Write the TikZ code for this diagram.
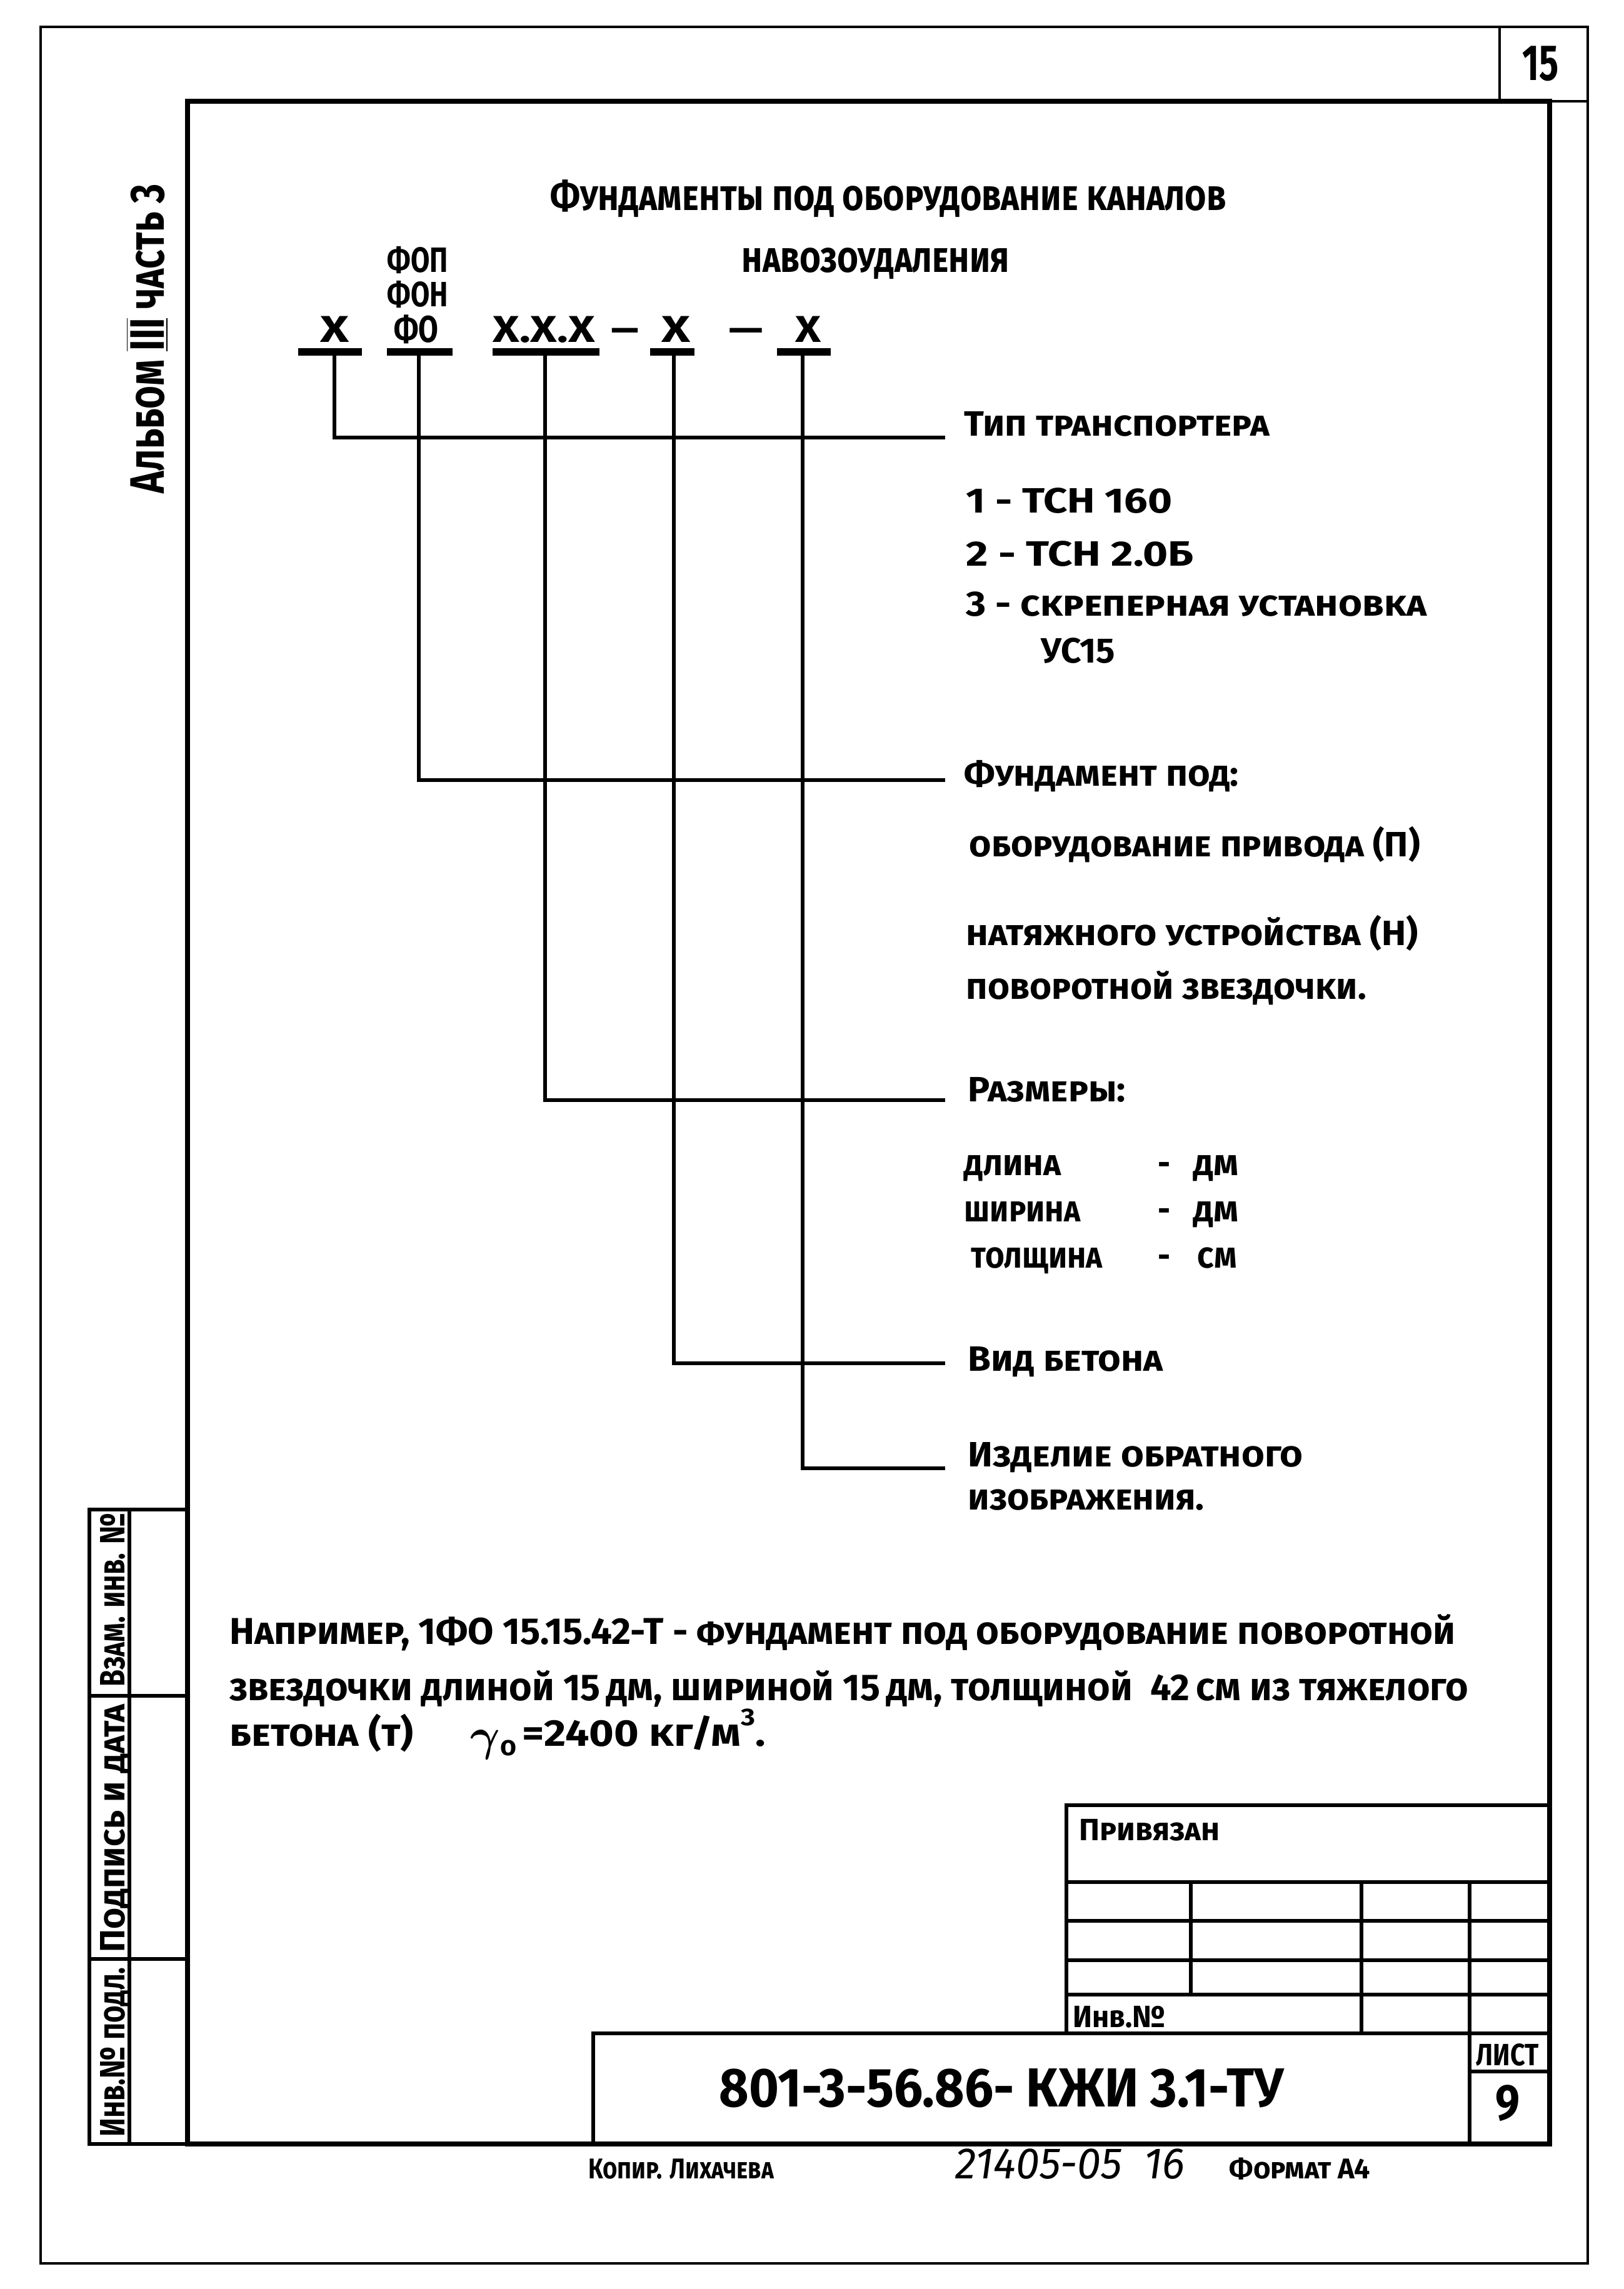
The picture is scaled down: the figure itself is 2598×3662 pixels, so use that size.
\documentclass[tikz,border=0pt]{standalone}
\usepackage{fontspec}
\usepackage{graphicx}
\newfontfamily\gost{Fira Sans}
\newdimen\pxu \pxu=0.01cm
\newcommand\fitw[2]{\resizebox{#1\pxu}{\height}{#2}}
\tikzset{
  outerline/.style={line width=1.2pt},
  innerline/.style={line width=2.1pt},
  stampline/.style={line width=1.5pt},
  tbline/.style={line width=1.6pt},
  lead/.style={line width=1.6pt},
  bar/.style={line width=3.4pt},
  lbl/.style={inner sep=0pt, anchor=base west, font=\gost\bfseries\scshape\fontsize{#1}{#1}\selectfont},
  lbl/.default=16,
  plain/.style={inner sep=0pt, anchor=base west, font=\gost\bfseries\fontsize{#1}{#1}\selectfont},
  plain/.default=16
}
\begin{document}
\begin{tikzpicture}[x=0.01cm,y=-0.01cm]
\useasboundingbox (0,0) rectangle (2598,3662);
\fill[white] (0,0) rectangle (2598,3662);

% frames
\draw[outerline] (65,43) rectangle (2540,3621);
\draw[innerline] (300,162) rectangle (2479,3430);
\draw[outerline] (2479,162) -- (2540,162);
\draw[outerline] (2399,43) -- (2399,162);
\node[plain=23] (pg) at (2435,128) {\fitw{58}{15}};

% side stamp
\draw[stampline] (300,2415) -- (143,2415) -- (143,3430) -- (300,3430);
\draw[stampline] (143,2713) -- (300,2713);
\draw[stampline] (143,3134) -- (300,3134);
\draw[stampline] (207,2415) -- (207,3430);
\node[lbl=16, rotate=90] (s1) at (199,2699) {\fitw{277}{Взам. инв. №}};
\node[lbl=16, rotate=90] (s2) at (199,3124) {\fitw{397}{Подпись и дата}};
\node[lbl=16, rotate=90] (s3) at (199,3419) {\fitw{271}{Инв.№ подл.}};

% album
\node[lbl=22, rotate=90] (alb) at (262,790) {\fitw{495}{Альбом $\overline{\underline{\hbox{III}}}$ часть 3}};

% title
\node[lbl=19] (t1) at (880,336) {\fitw{1081}{Фундаменты под оборудование каналов}};
\node[lbl=19] (t2) at (1186,435) {\fitw{428}{навозоудаления}};

% code scheme
\node[plain=16] (fop) at (619,435) {\fitw{97}{ФОП}};
\node[plain=16] (fon) at (619,490) {\fitw{97}{ФОН}};
\node[plain=17] (fo)  at (630,547) {\fitw{71}{ФО}};
\node[plain=17] (x1)  at (512,547) {\fitw{46}{Х}};
\node[plain=17] (x3)  at (788,547) {\fitw{163}{Х.Х.Х}};
\node[plain=17] (d1)  at (977,547) {\fitw{45}{–}};
\node[plain=17] (x4)  at (1058,547) {\fitw{46}{Х}};
\node[plain=17] (d2)  at (1165,547) {\fitw{56}{–}};
\node[plain=17] (x5)  at (1272,547) {\fitw{41}{Х}};

\coordinate (b1l) at (477,563); \coordinate (b1r) at (579,563);
\coordinate (b2l) at (619,563); \coordinate (b2r) at (724,563);
\coordinate (b3l) at (788,563); \coordinate (b3r) at (959,563);
\coordinate (b4l) at (1040,563); \coordinate (b4r) at (1111,563);
\coordinate (b5l) at (1243,563); \coordinate (b5r) at (1329,563);
\draw[bar] (b1l) -- (b1r);
\draw[bar] (b2l) -- (b2r);
\draw[bar] (b3l) -- (b3r);
\draw[bar] (b4l) -- (b4r);
\draw[bar] (b5l) -- (b5r);

\coordinate (k1) at (535,563);
\coordinate (k2) at (670,563);
\coordinate (k3) at (872,563);
\coordinate (k4) at (1078,563);
\coordinate (k5) at (1284,563);
\coordinate (e1) at (1512,700);
\coordinate (e2) at (1512,1248);
\coordinate (e3) at (1512,1760);
\coordinate (e4) at (1512,2181);
\coordinate (e5) at (1512,2349);
\draw[lead] (k1) |- (e1);
\draw[lead] (k2) |- (e2);
\draw[lead] (k3) |- (e3);
\draw[lead] (k4) |- (e4);
\draw[lead] (k5) |- (e5);

% labels
\node[lbl] (ty) at (1542,697) {\fitw{488}{Тип транспортера}};
\node[plain=16] (ty1) at (1545,820) {\fitw{330}{1 - ТСН 160}};
\node[plain=16] (ty2) at (1545,905) {\fitw{364}{2 - ТСН 2.0Б}};
\node[lbl] (ty3) at (1545,985) {\fitw{737}{3 - скреперная установка}};
\node[plain=16] (ty4) at (1665,1060) {\fitw{118}{УС15}};

\node[lbl] (fu) at (1542,1257) {\fitw{439}{Фундамент под:}};
\node[lbl] (fu1) at (1550,1370) {\fitw{721}{оборудование привода (П)}};
\node[lbl] (fu2) at (1545,1512) {\fitw{723}{натяжного устройства (Н)}};
\node[lbl] (fu3) at (1545,1598) {\fitw{640}{поворотной звездочки.}};

\node[lbl] (ra) at (1548,1762) {\fitw{252}{Размеры:}};
\node[lbl] (ra1) at (1542,1880) {\fitw{155}{длина}};
\node[lbl] (ra1d) at (1852,1880) {\fitw{20}{-}};
\node[lbl] (ra1u) at (1909,1880) {\fitw{72}{дм}};
\node[lbl] (ra2) at (1542,1954) {\fitw{186}{ширина}};
\node[lbl] (ra2d) at (1852,1954) {\fitw{20}{-}};
\node[lbl] (ra2u) at (1909,1954) {\fitw{72}{дм}};
\node[lbl] (ra3) at (1553,2028) {\fitw{210}{толщина}};
\node[lbl] (ra3d) at (1852,2028) {\fitw{20}{-}};
\node[lbl] (ra3u) at (1915,2028) {\fitw{63}{см}};

\node[lbl] (vb) at (1548,2193) {\fitw{312}{Вид бетона}};
\node[lbl] (iz1) at (1548,2346) {\fitw{536}{Изделие обратного}};
\node[lbl] (iz2) at (1548,2415) {\fitw{378}{изображения.}};

% paragraph
\node[lbl=17] (p1) at (367,2630) {\fitw{1961}{Например, 1ФО 15.15.42-Т - фундамент под оборудование поворотной}};
\node[lbl=17] (p2) at (367,2720) {\fitw{1981}{звездочки длиной 15\,дм, шириной 15\,дм, толщиной \ 42\,см из тяжелого}};
\node[lbl=17] (p3) at (367,2793) {\fitw{294}{бетона (т)}};
\node[lbl=12] (gam) at (752,2800) {{\fontsize{22}{22}\selectfont\boldmath$\gamma$}\raisebox{-0.08cm}{о}};
\node[lbl=17] (p4) at (835,2793) {\fitw{389}{=2400 кг/м\raisebox{0.55em}{\fontsize{11}{11}\selectfont 3}.}};

% title block
\draw[tbline] (1706,3253) -- (1706,2888) -- (2479,2888);
\draw[tbline] (1706,3011) -- (2479,3011);
\draw[tbline] (1706,3073) -- (2479,3073);
\draw[tbline] (1706,3136) -- (2479,3136);
\draw[tbline] (1706,3191) -- (2479,3191);
\draw[tbline] (949,3430) -- (949,3253) -- (2479,3253);
\draw[tbline] (1905,3011) -- (1905,3191);
\draw[tbline] (2178,3011) -- (2178,3253);
\draw[tbline] (2351,3011) -- (2351,3430);
\draw[tbline] (2351,3314) -- (2479,3314);
\node[lbl=14] (pr) at (1726,2944) {\fitw{225}{Привязан}};
\node[plain=14] (inv) at (1716,3243) {\fitw{148}{Инв.№}};
\node[plain=14] (ls) at (2361,3304) {\fitw{100}{ЛИСТ}};
\node[plain=23] (ls9) at (2392,3391) {\fitw{39}{9}};
\node[plain=25] (code) at (1150,3370) {\fitw{903}{801-3-56.86- КЖИ 3.1-ТУ}};

% below frame
\node[lbl=13] (kop) at (941,3485) {\fitw{296}{Копир. Лихачева}};
\node[inner sep=0pt, anchor=base west, font=\gost\itshape\fontsize{20}{20}\selectfont] (num) at (1528,3485) {\fitw{367}{21405-05 \ 16}};
\node[lbl=13] (fmt) at (1966,3485) {\fitw{225}{Формат А4}};
\end{tikzpicture}
\end{document}
